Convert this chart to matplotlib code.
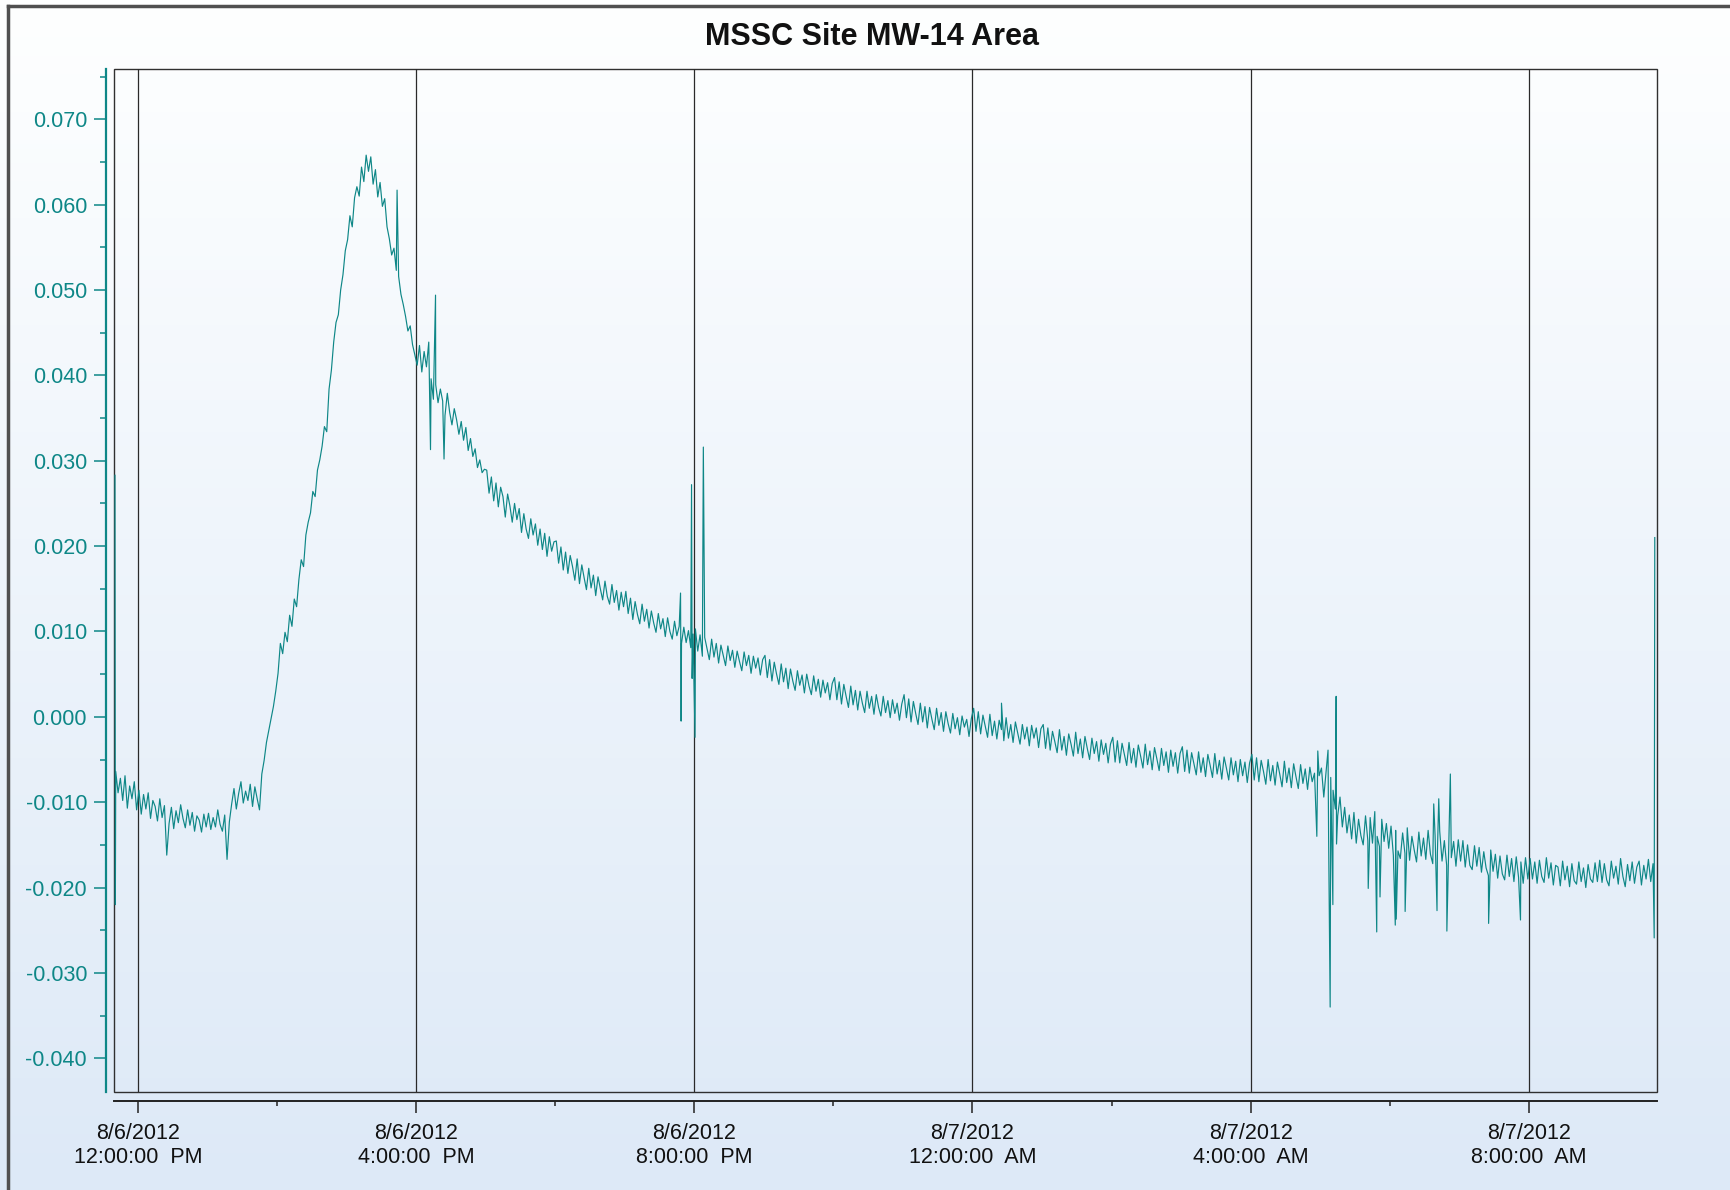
import numpy as np
import pandas as pd
import matplotlib
matplotlib.use("Agg")
import matplotlib.pyplot as plt
import matplotlib.dates as mdates
from matplotlib.patches import Rectangle
from matplotlib.lines import Line2D
from matplotlib.ticker import FixedLocator, FuncFormatter

plt.rcParams['font.family'] = ['Liberation Sans', 'DejaVu Sans']

title = "MSSC Site MW-14 Area"

# logger readings (x 1/1000), one every 2 minutes from 8/6/2012 11:41 AM
lvl_11am = [-6.4, -8.9, -7.2, -9.8, -6.9, -10.7, -8.1, -9.6, -7.6, -10.9]
lvl_12pm = [-8.6, -11.4, -9.1, -10.8, -8.9, -11.9, -9.8, -10.5, -12.2, -9.6,
            -11.8, -10.4, -16.2, -12.5, -10.6, -13.1, -11.0, -12.4, -10.3, -11.9,
            -13.0, -10.9, -12.7, -11.2, -13.4, -11.6, -12.1, -13.5, -11.4, -12.9]
lvl_01pm = [-11.3, -13.2, -11.8, -12.9, -10.9, -12.6, -13.4, -11.5, -16.7, -12.3,
            -10.2, -8.4, -10.8, -9.0, -7.6, -10.1, -8.7, -9.8, -7.9, -10.5,
            -8.2, -9.6, -10.9, -6.7, -5.1, -3.0, -1.6, -0.2, 1.2, 3.0]
lvl_02pm = [5.1, 8.6, 7.4, 9.9, 8.8, 11.9, 10.6, 13.8, 12.9, 16.1,
            18.4, 17.6, 21.3, 22.8, 23.9, 26.4, 25.8, 28.9, 30.1, 31.7,
            34.0, 33.4, 38.4, 40.6, 43.9, 46.2, 47.1, 50.0, 51.8, 54.6]
lvl_03pm = [55.9, 58.7, 57.4, 60.8, 62.1, 61.0, 64.4, 62.7, 65.8, 63.9,
            65.6, 62.4, 64.1, 60.9, 62.6, 59.8, 60.7, 57.4, 56.0, 54.1,
            54.9, 52.3, 51.6, 49.5, 48.3, 46.9, 45.2, 45.8, 43.6, 42.4]
lvl_04pm = [41.2, 43.5, 40.4, 42.8, 41.0, 43.9, 39.6, 37.2, 38.9, 36.8,
            38.4, 37.0, 35.3, 37.9, 35.7, 34.2, 36.1, 34.8, 33.1, 34.6,
            32.4, 33.9, 31.2, 32.6, 30.5, 31.4, 29.2, 30.1, 28.6, 29.0]
lvl_05pm = [28.9, 26.2, 28.1, 25.3, 27.4, 24.6, 26.9, 25.8, 23.4, 26.1,
            24.7, 22.8, 25.0, 23.1, 24.4, 21.6, 23.8, 22.0, 20.9, 23.2,
            21.3, 22.6, 20.1, 22.0, 19.6, 21.5, 18.8, 21.1, 19.4, 20.5]
lvl_06pm = [20.6, 18.0, 19.9, 17.2, 19.3, 16.8, 18.9, 17.6, 16.0, 18.5,
            15.6, 17.8, 16.3, 14.9, 17.4, 15.1, 16.6, 14.2, 16.4, 15.0,
            13.7, 15.9, 14.1, 13.2, 15.5, 13.4, 14.8, 12.5, 14.6, 12.9]
lvl_07pm = [14.7, 12.1, 13.9, 11.4, 13.5, 12.0, 10.9, 13.2, 11.2, 12.6,
            10.4, 12.4, 11.0, 9.9, 12.1, 10.3, 11.5, 9.4, 11.6, 10.0,
            9.1, 11.2, 9.5, 10.6, 8.6, 10.5, 8.7, 10.1, 8.1, 9.7]
lvl_08pm = [10.3, 7.7, 9.6, 7.1, 9.3, 8.0, 6.7, 9.1, 7.0, 8.6,
            6.3, 8.4, 7.2, 6.0, 8.3, 6.6, 7.8, 5.8, 7.7, 6.5,
            5.4, 7.6, 6.0, 7.2, 5.1, 7.1, 5.7, 6.9, 4.9, 6.7]
lvl_09pm = [7.2, 4.6, 6.7, 4.2, 6.4, 5.0, 3.8, 6.2, 4.1, 5.7,
            3.3, 5.6, 4.2, 3.1, 5.4, 3.7, 4.9, 2.8, 5.0, 3.6,
            2.6, 4.8, 3.0, 4.4, 2.3, 4.3, 2.8, 4.0, 2.0, 3.9]
lvl_10pm = [4.6, 2.0, 4.1, 1.5, 3.8, 2.4, 1.1, 3.6, 1.4, 3.1,
            0.8, 3.0, 1.6, 0.5, 3.0, 1.0, 2.4, 0.3, 2.6, 1.1,
            0.1, 2.4, 0.5, 1.9, -0.1, 2.0, 0.4, 1.6, -0.4, 1.5]
lvl_11pm = [2.6, -0.1, 2.1, -0.6, 1.8, 0.4, -0.9, 1.6, -0.6, 1.2,
            -1.3, 1.1, -0.3, -1.5, 1.0, -1.0, 0.5, -1.7, 0.6, -0.8,
            -1.9, 0.4, -1.4, -0.1, -2.1, 0.1, -1.2, -0.3, -2.3, -0.2]
lvl_12am = [1.0, -1.7, 0.6, -2.0, 0.2, -1.1, -2.4, 0.3, -2.2, -0.5,
            -2.6, -0.4, -1.5, -2.8, -0.1, -2.5, -0.9, -3.0, -0.6, -1.9,
            -3.2, -0.9, -2.6, -1.2, -3.4, -1.0, -2.5, -1.3, -3.6, -1.4]
lvl_01am = [-0.9, -3.7, -1.3, -3.9, -1.7, -2.9, -4.2, -1.5, -3.9, -2.3,
            -4.5, -2.0, -3.2, -4.6, -1.8, -4.3, -2.6, -4.8, -2.3, -3.7,
            -5.0, -2.5, -4.3, -2.9, -5.2, -2.7, -4.4, -3.1, -5.4, -3.2]
lvl_02am = [-2.4, -5.3, -2.8, -5.4, -3.1, -4.4, -5.7, -3.0, -5.4, -3.7,
            -5.9, -3.3, -4.6, -6.0, -3.2, -5.6, -4.0, -6.2, -3.6, -4.9,
            -6.3, -3.7, -5.7, -4.1, -6.5, -3.9, -5.8, -4.2, -6.6, -4.3]
lvl_03am = [-3.5, -6.4, -3.9, -6.6, -4.2, -5.5, -6.8, -4.1, -6.5, -4.8,
            -7.0, -4.4, -5.7, -7.1, -4.3, -6.7, -5.1, -7.3, -4.7, -6.0,
            -7.4, -4.8, -6.8, -5.2, -7.6, -5.0, -6.9, -5.3, -7.7, -5.4]
lvl_04am = [-4.4, -7.4, -4.8, -7.6, -5.1, -6.4, -7.9, -5.0, -7.5, -5.7,
            -8.0, -5.3, -6.7, -8.2, -5.2, -7.7, -6.0, -8.3, -5.5, -7.0,
            -8.4, -5.6, -7.8, -6.1, -8.5, -5.9, -7.6, -6.6, -14.0, -6.9]
lvl_05am = [-6.0, -9.4, -6.4, -9.9, -7.1, -8.6, -10.8, -11.6, -9.4, -12.9,
            -10.6, -13.6, -11.5, -14.3, -11.2, -14.8, -12.0, -13.9, -15.0, -11.6,
            -14.5, -11.8, -14.8, -11.1, -14.0, -15.2, -12.0, -14.6, -12.5, -15.4]
lvl_06am = [-12.8, -16.2, -13.3, -15.7, -16.6, -13.6, -16.0, -13.0, -16.8, -14.0,
            -15.6, -17.0, -13.5, -16.3, -14.2, -16.7, -13.3, -16.1, -17.2, -13.9,
            -15.9, -13.4, -16.9, -14.5, -17.4, -14.1, -16.5, -14.6, -17.5, -14.4]
lvl_07am = [-16.9, -14.5, -17.6, -15.0, -17.4, -17.9, -15.1, -17.5, -15.3, -18.2,
            -15.8, -17.7, -18.6, -15.6, -18.1, -16.1, -18.9, -16.3, -18.4, -19.1,
            -16.2, -18.7, -16.6, -19.3, -16.4, -18.8, -17.0, -19.5, -16.5, -19.0]
lvl_08am = [-16.6, -19.0, -17.0, -19.5, -16.8, -18.7, -19.4, -16.5, -18.9, -17.1,
            -19.7, -17.4, -17.6, -19.8, -16.9, -19.1, -17.5, -19.9, -17.2, -19.2,
            -19.6, -17.0, -19.3, -17.7, -20.0, -17.3, -19.0, -19.4, -17.1, -19.3]
lvl_09am = [-16.8, -19.4, -17.2, -19.1, -19.8, -16.9, -18.9, -17.5, -19.6, -16.6,
            -18.7, -19.9, -17.3, -19.2, -17.0, -19.5, -17.6, -16.9, -19.7, -17.4,
            -19.0, -16.7, -19.3, -17.2]

# single-sample spikes (x 1/1000)
spike_times = ["2012-08-06 11:40:20", "2012-08-06 11:40:40",
               "2012-08-06 15:43:40", "2012-08-06 16:12:30", "2012-08-06 16:16:50",
               "2012-08-06 16:24:10", "2012-08-06 19:48:10", "2012-08-06 19:48:40",
               "2012-08-06 19:57:40", "2012-08-06 19:58:10", "2012-08-06 20:00:40",
               "2012-08-06 20:07:50", "2012-08-07 00:25:00", "2012-08-07 04:57:50",
               "2012-08-07 05:06:40", "2012-08-07 05:07:10", "2012-08-07 05:08:30",
               "2012-08-07 05:10:50", "2012-08-07 05:13:40", "2012-08-07 05:14:00",
               "2012-08-07 05:41:20", "2012-08-07 05:48:40", "2012-08-07 05:51:30",
               "2012-08-07 06:04:40", "2012-08-07 06:05:30", "2012-08-07 06:13:10",
               "2012-08-07 06:37:50", "2012-08-07 06:40:40", "2012-08-07 06:42:10",
               "2012-08-07 06:49:10", "2012-08-07 06:52:10", "2012-08-07 07:25:10",
               "2012-08-07 07:52:40", "2012-08-07 09:48:00", "2012-08-07 09:48:30"]
spike_levels = [28.3, -22.0,
                61.7, 31.3, 49.4,
                30.2, 14.5, -0.5,
                27.2, 4.5, -2.4,
                31.6, 1.6, -4.0,
                -3.9, -14.2, -34.0,
                -22.0, 2.4, -14.9,
                -20.1, -25.2, -21.1,
                -24.4, -23.7, -22.8,
                -10.2, -22.7, -9.6,
                -25.1, -6.7, -24.2,
                -23.8, -25.9, 21.0]

tick_times = ["2012-08-06 12:00", "2012-08-06 16:00", "2012-08-06 20:00",
              "2012-08-07 00:00", "2012-08-07 04:00", "2012-08-07 08:00"]
tick_labels = ["8/6/2012\n12:00:00  PM", "8/6/2012\n4:00:00  PM", "8/6/2012\n8:00:00  PM",
               "8/7/2012\n12:00:00  AM", "8/7/2012\n4:00:00  AM", "8/7/2012\n8:00:00  AM"]
minor_times = ["2012-08-06 14:00", "2012-08-06 18:00", "2012-08-06 22:00",
               "2012-08-07 02:00", "2012-08-07 06:00"]
y_ticks = [-0.040, -0.030, -0.020, -0.010, 0.000, 0.010, 0.020, 0.030, 0.040,
           0.050, 0.060, 0.070]
y_minor = [-0.035, -0.025, -0.015, -0.005, 0.005, 0.015, 0.025, 0.035, 0.045,
           0.055, 0.065, 0.075]

levels = (lvl_11am + lvl_12pm + lvl_01pm + lvl_02pm + lvl_03pm + lvl_04pm + lvl_05pm
          + lvl_06pm + lvl_07pm + lvl_08pm + lvl_09pm + lvl_10pm + lvl_11pm + lvl_12am
          + lvl_01am + lvl_02am + lvl_03am + lvl_04am + lvl_05am + lvl_06am + lvl_07am
          + lvl_08am + lvl_09am)
sample_times = pd.date_range("2012-08-06 11:41", periods=len(levels), freq="2min")

t_all = np.concatenate([sample_times.values, pd.to_datetime(spike_times).values])
v_all = np.concatenate([np.array(levels), np.array(spike_levels)]) / 1000.0
order = np.argsort(t_all, kind="stable")

teal = "#0e8787"

fig = plt.figure(figsize=(17.3, 11.9), dpi=100)

# soft vertical background gradient
bg = fig.add_axes([0, 0, 1, 1], zorder=-10)
top_c = np.array([254, 255, 255]) / 255.0
bot_c = np.array([221, 233, 247]) / 255.0
w = np.linspace(0, 1, 256)[:, None]
grad = top_c[None, :] * (1 - w) + bot_c[None, :] * w
bg.imshow(grad[:, None, :], aspect="auto", extent=[0, 1, 0, 1])
bg.axis("off")

fig.add_artist(Line2D([8 / 1730, 8 / 1730], [0, 1 - 6 / 1190],
                      transform=fig.transFigure, color="#505050", lw=2.5))
fig.add_artist(Line2D([8 / 1730, 1], [1 - 6 / 1190, 1 - 6 / 1190],
                      transform=fig.transFigure, color="#505050", lw=2.5))

ax = fig.add_axes([114 / 1730, 1 - 1092 / 1190, 1543 / 1730, 1023 / 1190])
ax.set_facecolor("none")

ax.plot(t_all[order], v_all[order], color=teal, lw=0.85)

ax.set_xlim(pd.Timestamp("2012-08-06 11:39:30"), pd.Timestamp("2012-08-07 09:50:25"))
ax.set_ylim(-0.04395, 0.07589)

ax.xaxis.set_major_locator(FixedLocator(mdates.date2num(pd.to_datetime(tick_times))))
ax.xaxis.set_minor_locator(FixedLocator(mdates.date2num(pd.to_datetime(minor_times))))
ax.set_xticklabels(tick_labels)
ax.yaxis.set_major_locator(FixedLocator(y_ticks))
ax.yaxis.set_minor_locator(FixedLocator(y_minor))
ax.yaxis.set_major_formatter(FuncFormatter(lambda y, p: f"{y:.3f}"))

ax.grid(axis="x", which="major", color="#2a2a2a", lw=0.9)

for s in ["top", "right"]:
    ax.spines[s].set_visible(False)
ax.spines["left"].set_position(("outward", 5.8))
ax.spines["left"].set_color(teal)
ax.spines["left"].set_linewidth(1.6)
ax.spines["bottom"].set_position(("outward", 6.5))
ax.spines["bottom"].set_color("#222222")
ax.spines["bottom"].set_linewidth(1.4)
ax.add_patch(Rectangle((0, 0), 1, 1, transform=ax.transAxes, fill=False,
                       ec="#303030", lw=1.0, clip_on=False))

ax.tick_params(axis="y", which="major", length=8.6, width=1.1, color=teal,
               labelcolor=teal, labelsize=15.5, pad=5)
ax.tick_params(axis="y", which="minor", length=4.3, width=1.1, color=teal)
ax.tick_params(axis="x", which="major", length=8.6, width=1.1, color="#222222",
               labelcolor="#111111", labelsize=15.5, pad=7)
ax.tick_params(axis="x", which="minor", length=3.6, width=1.1, color="#222222")

fig.text(872 / 1730, 1 - 37 / 1190, title, ha="center", va="center",
         fontsize=22, fontweight="bold", color="#111111")

fig.savefig("out.png", dpi=100)
